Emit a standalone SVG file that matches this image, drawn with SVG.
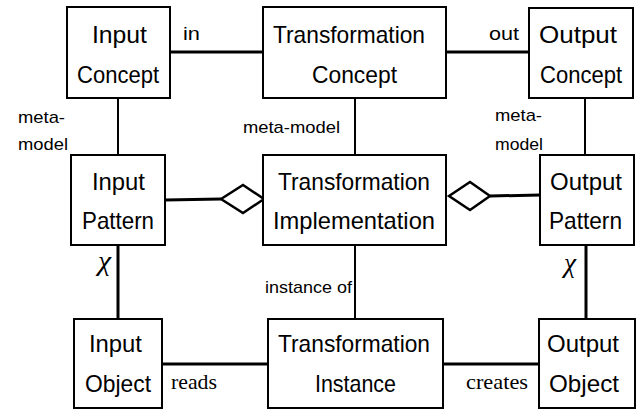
<svg xmlns="http://www.w3.org/2000/svg" width="637" height="410" viewBox="0 0 637 410">
  <style>
    .box { fill: #ffffff; stroke: #000000; stroke-width: 2; }
    .link { stroke: #000000; fill: none; }
    .h { stroke-width: 3; }
    .v { stroke-width: 2; }
    .diamond { fill: #ffffff; stroke: #000000; stroke-width: 2.5; stroke-linejoin: miter; }
    .name { font-family: "Liberation Sans", Arial, sans-serif; font-size: 24px; fill: #000000; }
    .lbl { font-family: "Liberation Sans", Arial, sans-serif; font-size: 17px; fill: #000000; }
    .serif { font-family: "Liberation Serif", "Times New Roman", serif; font-size: 22px; fill: #000000; }
    .chi { font-family: "Liberation Serif", "Times New Roman", serif; font-size: 27px; font-style: italic; fill: #000000; }
  </style>
  <rect width="637" height="410" fill="#ffffff"/>

  <!-- connectors -->
  <g id="connectors">
    <line class="link h" x1="170" y1="52" x2="263" y2="52"/>
    <line class="link h" x1="446" y1="52" x2="529" y2="52"/>
    <line class="link v" x1="118" y1="98" x2="118" y2="155"/>
    <line class="link v" x1="355" y1="98" x2="355" y2="155"/>
    <line class="link v" x1="585" y1="98" x2="585" y2="155"/>
    <line class="link h" x1="165" y1="200" x2="221" y2="199"/>
    <polygon class="diamond" points="221,199 243,185 264,199 243,213"/>
    <line class="link h" x1="490" y1="196" x2="540" y2="195"/>
    <polygon class="diamond" points="449,196 470,182 490,196 470,210"/>
    <line class="link h" x1="118" y1="245" x2="118" y2="319"/>
    <line class="link v" x1="355" y1="245" x2="355" y2="319"/>
    <line class="link h" x1="586" y1="245" x2="586" y2="319"/>
    <line class="link h" x1="162" y1="364" x2="268" y2="364"/>
    <line class="link h" x1="443" y1="364" x2="539" y2="364"/>
    <text class="lbl" x="183" y="40" textLength="17" lengthAdjust="spacingAndGlyphs" style="font-size:19px">in</text>
    <text class="lbl" x="489" y="40" textLength="30" lengthAdjust="spacingAndGlyphs" style="font-size:19px">out</text>
    <text class="lbl" x="18" y="123" textLength="47" lengthAdjust="spacingAndGlyphs">meta-</text>
    <text class="lbl" x="18" y="150" textLength="50" lengthAdjust="spacingAndGlyphs">model</text>
    <text class="lbl" x="243" y="133" textLength="97" lengthAdjust="spacingAndGlyphs">meta-model</text>
    <text class="lbl" x="495" y="121" textLength="47" lengthAdjust="spacingAndGlyphs">meta-</text>
    <text class="lbl" x="495" y="150" textLength="48" lengthAdjust="spacingAndGlyphs">model</text>
    <text class="chi" x="98" y="270" textLength="13" lengthAdjust="spacingAndGlyphs">χ</text>
    <text class="chi" x="564" y="272" textLength="12" lengthAdjust="spacingAndGlyphs">χ</text>
    <text class="lbl" x="265" y="293" textLength="87" lengthAdjust="spacingAndGlyphs">instance of</text>
    <text class="serif" x="171" y="389" textLength="46" lengthAdjust="spacingAndGlyphs">reads</text>
    <text class="serif" x="466" y="389" textLength="62" lengthAdjust="spacingAndGlyphs">creates</text>
  </g>

  <g id="input-concept">
    <rect class="box" x="67" y="7" width="103" height="91"/>
    <text class="name" x="92" y="43" textLength="55" lengthAdjust="spacingAndGlyphs">Input</text>
    <text class="name" x="77" y="83" textLength="82" lengthAdjust="spacingAndGlyphs">Concept</text>
  </g>
  <g id="transformation-concept">
    <rect class="box" x="263" y="7" width="183" height="91"/>
    <text class="name" x="273" y="43" textLength="152" lengthAdjust="spacingAndGlyphs">Transformation</text>
    <text class="name" x="312" y="83" textLength="85" lengthAdjust="spacingAndGlyphs">Concept</text>
  </g>
  <g id="output-concept">
    <rect class="box" x="529" y="8" width="104" height="90"/>
    <text class="name" x="539" y="43" textLength="78" lengthAdjust="spacingAndGlyphs">Output</text>
    <text class="name" x="540" y="83" textLength="82" lengthAdjust="spacingAndGlyphs">Concept</text>
  </g>

  <g id="input-pattern">
    <rect class="box" x="71" y="155" width="94" height="90"/>
    <text class="name" x="92" y="190" textLength="53" lengthAdjust="spacingAndGlyphs">Input</text>
    <text class="name" x="82" y="229" textLength="72" lengthAdjust="spacingAndGlyphs">Pattern</text>
  </g>
  <g id="transformation-implementation">
    <rect class="box" x="263" y="155" width="183" height="90"/>
    <text class="name" x="278" y="190" textLength="152" lengthAdjust="spacingAndGlyphs">Transformation</text>
    <text class="name" x="273" y="229" textLength="162" lengthAdjust="spacingAndGlyphs">Implementation</text>
  </g>
  <g id="output-pattern">
    <rect class="box" x="540" y="155" width="94" height="90"/>
    <text class="name" x="550" y="190" textLength="72" lengthAdjust="spacingAndGlyphs">Output</text>
    <text class="name" x="549" y="229" textLength="73" lengthAdjust="spacingAndGlyphs">Pattern</text>
  </g>

  <g id="input-object">
    <rect class="box" x="74" y="319" width="88" height="89"/>
    <text class="name" x="89" y="352" textLength="53" lengthAdjust="spacingAndGlyphs">Input</text>
    <text class="name" x="85" y="392" textLength="66" lengthAdjust="spacingAndGlyphs">Object</text>
  </g>
  <g id="transformation-instance">
    <rect class="box" x="268" y="319" width="175" height="89"/>
    <text class="name" x="278" y="352" textLength="152" lengthAdjust="spacingAndGlyphs">Transformation</text>
    <text class="name" x="315" y="392" textLength="81" lengthAdjust="spacingAndGlyphs">Instance</text>
  </g>
  <g id="output-object">
    <rect class="box" x="539" y="319" width="96" height="89"/>
    <text class="name" x="547" y="352" textLength="72" lengthAdjust="spacingAndGlyphs">Output</text>
    <text class="name" x="549" y="392" textLength="70" lengthAdjust="spacingAndGlyphs">Object</text>
  </g>
</svg>
